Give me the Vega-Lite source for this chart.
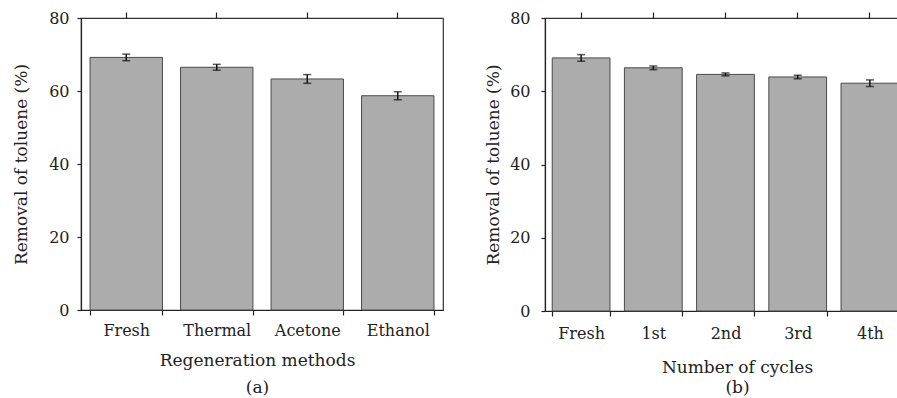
{
  "$schema": "https://vega.github.io/schema/vega-lite/v6.json",
  "padding": {"left": 12, "top": 9, "right": 0, "bottom": 0},
  "spacing": 40,
  "config": {
    "font": "DejaVu Serif",
    "view": {"stroke": "#333", "strokeWidth": 1.2},
    "axis": {
      "domainColor": "#222", "tickColor": "#222", "labelColor": "#222", "titleColor": "#222",
      "labelFont": "DejaVu Serif", "titleFont": "DejaVu Serif",
      "labelFontSize": 16, "titleFontSize": 17, "titleFontWeight": "normal",
      "grid": false, "domainWidth": 1.2, "tickWidth": 1.2
    }
  },
  "datasets": {
    "a": [
      {"category": "Fresh", "removal": 69.2, "lo": 68.3, "hi": 70.1},
      {"category": "Thermal", "removal": 66.5, "lo": 65.7, "hi": 67.3},
      {"category": "Acetone", "removal": 63.3, "lo": 62.1, "hi": 64.5},
      {"category": "Ethanol", "removal": 58.7, "lo": 57.6, "hi": 59.8}
    ],
    "b": [
      {"category": "Fresh", "removal": 69.1, "lo": 68.2, "hi": 70.0},
      {"category": "1st", "removal": 66.4, "lo": 65.9, "hi": 66.9},
      {"category": "2nd", "removal": 64.6, "lo": 64.2, "hi": 65.0},
      {"category": "3rd", "removal": 63.9, "lo": 63.4, "hi": 64.4},
      {"category": "4th", "removal": 62.2, "lo": 61.3, "hi": 63.1}
    ]
  },
  "hconcat": [
    {
      "width": 362,
      "height": 292,
      "data": {"name": "a"},
      "resolve": {"axis": {"x": "independent"}},
      "layer": [
        {
          "mark": {"type": "bar", "fill": "#acacac", "stroke": "#4a4a4a", "strokeWidth": 1},
          "encoding": {
            "x": {
              "field": "category", "type": "nominal", "sort": null,
              "scale": {"paddingInner": 0.2, "paddingOuter": 0.1},
              "axis": {
                "labelAngle": 0, "tickBand": "extent", "tickSize": 5, "labelPadding": 7,
                "title": ["Regeneration methods", "(a)"], "titlePadding": 14, "titleLineHeight": 27,
                "titleX": 176
              }
            },
            "y": {
              "field": "removal", "type": "quantitative",
              "scale": {"domain": [0, 80], "nice": false},
              "axis": {
                "title": "Removal of toluene (%)",
                "values": [0, 10, 20, 30, 40, 50, 60, 70, 80],
                "labelExpr": "datum.value % 20 === 0 ? datum.label : ''",
                "tickSize": 4, "labelPadding": 8, "titlePadding": 18
              }
            }
          }
        },
        {
          "mark": {"type": "errorbar", "ticks": {"size": 8, "thickness": 1.5, "color": "#111"}, "rule": {"strokeWidth": 1.5, "color": "#111"}},
          "encoding": {
            "x": {
              "field": "category", "type": "nominal", "sort": null,
              "axis": {"labels": false, "domain": false, "tickSize": 6, "title": null}
            },
            "y": {"field": "lo", "type": "quantitative", "title": "Removal of toluene (%)"},
            "y2": {"field": "hi"}
          }
        }
      ]
    },
    {
      "width": 361,
      "height": 293,
      "data": {"name": "b"},
      "resolve": {"axis": {"x": "independent"}},
      "layer": [
        {
          "mark": {"type": "bar", "fill": "#acacac", "stroke": "#4a4a4a", "strokeWidth": 1},
          "encoding": {
            "x": {
              "field": "category", "type": "nominal", "sort": null,
              "scale": {"paddingInner": 0.2, "paddingOuter": 0.1},
              "axis": {
                "labelAngle": 0, "tickBand": "extent", "tickSize": 5, "labelPadding": 9,
                "title": ["Number of cycles", "(b)"], "titlePadding": 18, "titleLineHeight": 20,
                "titleX": 192
              }
            },
            "y": {
              "field": "removal", "type": "quantitative",
              "scale": {"domain": [0, 80], "nice": false},
              "axis": {
                "title": "Removal of toluene (%)",
                "values": [0, 10, 20, 30, 40, 50, 60, 70, 80],
                "labelExpr": "datum.value % 20 === 0 ? datum.label : ''",
                "tickSize": 4, "labelPadding": 11, "titlePadding": 7
              }
            }
          }
        },
        {
          "mark": {"type": "errorbar", "ticks": {"size": 8, "thickness": 1.5, "color": "#111"}, "rule": {"strokeWidth": 1.5, "color": "#111"}},
          "encoding": {
            "x": {
              "field": "category", "type": "nominal", "sort": null,
              "axis": {"labels": false, "domain": false, "tickSize": 6, "title": null}
            },
            "y": {"field": "lo", "type": "quantitative", "title": "Removal of toluene (%)"},
            "y2": {"field": "hi"}
          }
        }
      ]
    }
  ]
}
